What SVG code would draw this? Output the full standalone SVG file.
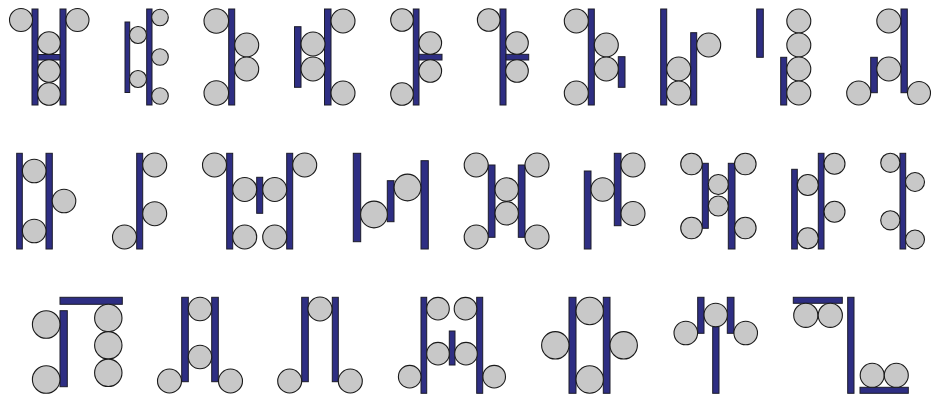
<svg xmlns="http://www.w3.org/2000/svg" width="936" height="400" viewBox="0 0 936 400">
<style>
.b{fill:#2e2e83;stroke:#1c1c2a;stroke-width:1}
.c{fill:#c8c8c8;stroke:#1a1a1a;stroke-width:1.1}
</style>
<rect width="936" height="400" fill="#fff"/>
<g id="f1">
<rect class="b" x="32" y="9" width="6" height="96"/><rect class="b" x="60" y="9" width="6" height="96"/>
<rect class="b" x="38" y="54.5" width="22" height="5.5"/>
<circle class="c" cx="21" cy="20" r="11.5"/><circle class="c" cx="77.5" cy="20" r="11.5"/>
<circle class="c" cx="49" cy="43" r="11.3"/><circle class="c" cx="49" cy="71" r="11.3"/><circle class="c" cx="49" cy="94" r="11.3"/>
</g>
<g id="f2">
<rect class="b" x="125" y="22" width="4.7" height="70.5"/><rect class="b" x="146.7" y="9" width="5.3" height="96"/>
<circle class="c" cx="138" cy="35" r="8.5"/><circle class="c" cx="138" cy="79" r="8.5"/>
<circle class="c" cx="160" cy="17.5" r="8.3"/><circle class="c" cx="160" cy="57" r="8.3"/><circle class="c" cx="160" cy="96" r="8.3"/>
</g>
<g id="f3">
<rect class="b" x="228.7" y="9" width="6" height="96"/>
<circle class="c" cx="216.3" cy="21" r="12.3"/><circle class="c" cx="216.3" cy="93" r="12.3"/>
<circle class="c" cx="246.7" cy="45" r="12"/><circle class="c" cx="246.7" cy="69" r="12"/>
</g>
<g id="f4">
<rect class="b" x="294.5" y="26.7" width="6.5" height="60.6"/><rect class="b" x="324.5" y="9" width="6.5" height="96"/>
<circle class="c" cx="313" cy="44" r="12"/><circle class="c" cx="313" cy="69" r="12"/>
<circle class="c" cx="343" cy="21" r="12"/><circle class="c" cx="343" cy="93" r="12"/>
</g>
<g id="f5">
<rect class="b" x="413.3" y="9" width="5.7" height="96"/><rect class="b" x="419" y="54.3" width="23" height="5.7"/>
<circle class="c" cx="402" cy="20" r="11.3"/><circle class="c" cx="402" cy="94" r="11.3"/>
<circle class="c" cx="430.3" cy="43" r="11.3"/><circle class="c" cx="430.3" cy="71" r="11.3"/>
</g>
<g id="f6">
<rect class="b" x="500" y="9" width="6" height="96"/><rect class="b" x="506" y="54.3" width="22.7" height="5.7"/>
<circle class="c" cx="488.7" cy="20" r="11.3"/><circle class="c" cx="517" cy="43" r="11.3"/><circle class="c" cx="517" cy="71" r="11.3"/>
</g>
<g id="f7">
<rect class="b" x="588.3" y="9" width="6" height="96"/><rect class="b" x="618.3" y="56.7" width="6.7" height="30.6"/>
<circle class="c" cx="576.3" cy="21" r="12"/><circle class="c" cx="576.3" cy="93" r="12"/>
<circle class="c" cx="606.3" cy="45" r="12"/><circle class="c" cx="606.3" cy="69" r="12"/>
</g>
<g id="f8">
<rect class="b" x="660.7" y="9" width="6" height="96"/><rect class="b" x="690.7" y="32.7" width="6" height="72.3"/>
<circle class="c" cx="678.7" cy="69" r="12"/><circle class="c" cx="678.7" cy="93" r="12"/><circle class="c" cx="708.7" cy="45" r="12"/>
</g>
<g id="f9">
<rect class="b" x="756.7" y="9" width="6.6" height="48.3"/><rect class="b" x="780.7" y="57.3" width="6" height="47.7"/>
<circle class="c" cx="798.8" cy="21" r="12"/><circle class="c" cx="798.8" cy="45" r="12"/><circle class="c" cx="798.8" cy="69" r="12"/><circle class="c" cx="798.8" cy="93" r="12"/>
</g>
<g id="f10">
<rect class="b" x="870.7" y="57.3" width="6.6" height="35.4"/><rect class="b" x="901" y="9" width="6.3" height="83.7"/>
<circle class="c" cx="888.8" cy="21" r="12"/><circle class="c" cx="888.8" cy="69" r="12"/>
<circle class="c" cx="858.7" cy="93" r="12"/><circle class="c" cx="919" cy="93" r="11.5"/>
</g>
<g id="f11">
<rect class="b" x="16.7" y="153.3" width="5.6" height="95.7"/><rect class="b" x="46" y="153.3" width="6.3" height="95.7"/>
<circle class="c" cx="34.2" cy="171" r="11.8"/><circle class="c" cx="34.2" cy="231" r="11.8"/><circle class="c" cx="64" cy="201" r="11.8"/>
</g>
<g id="f12">
<rect class="b" x="136.7" y="153.3" width="6" height="95.7"/>
<circle class="c" cx="154.7" cy="165" r="12"/><circle class="c" cx="154.7" cy="213.7" r="12"/><circle class="c" cx="124.5" cy="237" r="12"/>
</g>
<g id="f13">
<rect class="b" x="226.7" y="153.3" width="6" height="95.7"/><rect class="b" x="286.7" y="153.3" width="6" height="95.7"/>
<rect class="b" x="256.7" y="177.3" width="6" height="36"/>
<circle class="c" cx="214.5" cy="165" r="12"/><circle class="c" cx="304.7" cy="165" r="12"/>
<circle class="c" cx="244.7" cy="189.5" r="12"/><circle class="c" cx="274.7" cy="189.5" r="12"/>
<circle class="c" cx="244.7" cy="237" r="12"/><circle class="c" cx="274.7" cy="237" r="12"/>
</g>
<g id="f14">
<rect class="b" x="353.3" y="153.3" width="7.4" height="88.4"/><rect class="b" x="387.3" y="180.7" width="6.7" height="41"/>
<rect class="b" x="421" y="160.7" width="7.3" height="88.3"/>
<circle class="c" cx="374" cy="214.5" r="13.4"/><circle class="c" cx="407.5" cy="187.5" r="13.4"/>
</g>
<g id="f15">
<rect class="b" x="488.3" y="165" width="6.7" height="72.3"/><rect class="b" x="518.3" y="165" width="6.7" height="72.3"/>
<circle class="c" cx="506.7" cy="189.5" r="11.7"/><circle class="c" cx="506.7" cy="213.3" r="11.7"/>
<circle class="c" cx="476.2" cy="165" r="12"/><circle class="c" cx="537" cy="165" r="12"/>
<circle class="c" cx="476.2" cy="237" r="12"/><circle class="c" cx="537" cy="237" r="12"/>
</g>
<g id="f16">
<rect class="b" x="584.3" y="171" width="6.7" height="78"/><rect class="b" x="614.3" y="153.3" width="6.7" height="72.4"/>
<circle class="c" cx="602.7" cy="189.5" r="11.7"/><circle class="c" cx="633" cy="165" r="12"/><circle class="c" cx="633" cy="213.5" r="12"/>
</g>
<g id="f17">
<rect class="b" x="702.3" y="163.3" width="6" height="65"/><rect class="b" x="728.3" y="163.3" width="6.7" height="85.7"/>
<circle class="c" cx="718.3" cy="184.5" r="10"/><circle class="c" cx="718.3" cy="206" r="10"/>
<circle class="c" cx="691.5" cy="164" r="10.8"/><circle class="c" cx="745.3" cy="164" r="10.8"/>
<circle class="c" cx="691.5" cy="228" r="10.8"/><circle class="c" cx="745.3" cy="228" r="10.8"/>
</g>
<g id="f18">
<rect class="b" x="791.7" y="169.3" width="5.6" height="79.7"/><rect class="b" x="818.3" y="153.3" width="5.7" height="95.7"/>
<circle class="c" cx="807.8" cy="185" r="10.5"/><circle class="c" cx="807.8" cy="238.3" r="10.5"/>
<circle class="c" cx="834.5" cy="163.8" r="10.5"/><circle class="c" cx="834.5" cy="211.7" r="10.5"/>
</g>
<g id="f19">
<rect class="b" x="900" y="153.3" width="5.7" height="95.7"/>
<circle class="c" cx="890.3" cy="162.8" r="9.6"/><circle class="c" cx="890.3" cy="220.3" r="9.6"/>
<circle class="c" cx="915" cy="182" r="9.5"/><circle class="c" cx="915" cy="239.5" r="9.5"/>
</g>
<g id="f20">
<rect class="b" x="60" y="297.3" width="62.3" height="7"/><rect class="b" x="60" y="310.7" width="7.3" height="76"/>
<circle class="c" cx="46.2" cy="324.5" r="13.8"/><circle class="c" cx="46.2" cy="379.5" r="13.8"/>
<circle class="c" cx="108.3" cy="318" r="13.7"/><circle class="c" cx="108.3" cy="345.3" r="13.7"/><circle class="c" cx="108.3" cy="372.8" r="13.7"/>
</g>
<g id="f21">
<rect class="b" x="181.7" y="297.3" width="6.6" height="84.4"/><rect class="b" x="211.7" y="297.3" width="6.6" height="84.4"/>
<circle class="c" cx="200" cy="309" r="11.7"/><circle class="c" cx="200" cy="357" r="11.7"/>
<circle class="c" cx="169.5" cy="381" r="12"/><circle class="c" cx="230.5" cy="381" r="12"/>
</g>
<g id="f22">
<rect class="b" x="301.7" y="297.3" width="6.6" height="84.4"/><rect class="b" x="332.3" y="297.3" width="6" height="84.4"/>
<circle class="c" cx="289.7" cy="381" r="12"/><circle class="c" cx="320" cy="309" r="12"/><circle class="c" cx="350.3" cy="381" r="12"/>
</g>
<g id="f23">
<rect class="b" x="421" y="297.3" width="5.7" height="96"/><rect class="b" x="476.7" y="297.3" width="6" height="96"/>
<rect class="b" x="449.3" y="331" width="5.7" height="34"/>
<circle class="c" cx="438" cy="308.7" r="11.3"/><circle class="c" cx="465.5" cy="308.7" r="11.3"/>
<circle class="c" cx="438" cy="353.7" r="11.3"/><circle class="c" cx="466" cy="353.7" r="11.3"/>
<circle class="c" cx="409.7" cy="376.7" r="11.3"/><circle class="c" cx="494.2" cy="376.7" r="11.3"/>
</g>
<g id="f24">
<rect class="b" x="569" y="297.3" width="7" height="96"/><rect class="b" x="603.3" y="297.3" width="6.7" height="96"/>
<circle class="c" cx="589.7" cy="311" r="13.7"/><circle class="c" cx="589.7" cy="379.5" r="13.7"/>
<circle class="c" cx="555.3" cy="345.3" r="13.7"/><circle class="c" cx="623.7" cy="345.3" r="13.7"/>
</g>
<g id="f25">
<rect class="b" x="697.7" y="297.3" width="6.3" height="36"/><rect class="b" x="727.3" y="297.3" width="6.7" height="36"/>
<rect class="b" x="712.7" y="326.7" width="6.3" height="66.6"/>
<circle class="c" cx="715.7" cy="315" r="11.7"/><circle class="c" cx="685.8" cy="333" r="11.8"/><circle class="c" cx="745.7" cy="333" r="11.8"/>
</g>
<g id="f26">
<rect class="b" x="793.3" y="297.3" width="49" height="6"/><rect class="b" x="847.7" y="297.3" width="6.3" height="96"/>
<rect class="b" x="860" y="387.3" width="48.3" height="6"/>
<circle class="c" cx="805.8" cy="315.3" r="12.1"/><circle class="c" cx="830.3" cy="315.3" r="12.1"/>
<circle class="c" cx="872.2" cy="375.3" r="12"/><circle class="c" cx="896.3" cy="375.3" r="12"/>
</g>
</svg>
